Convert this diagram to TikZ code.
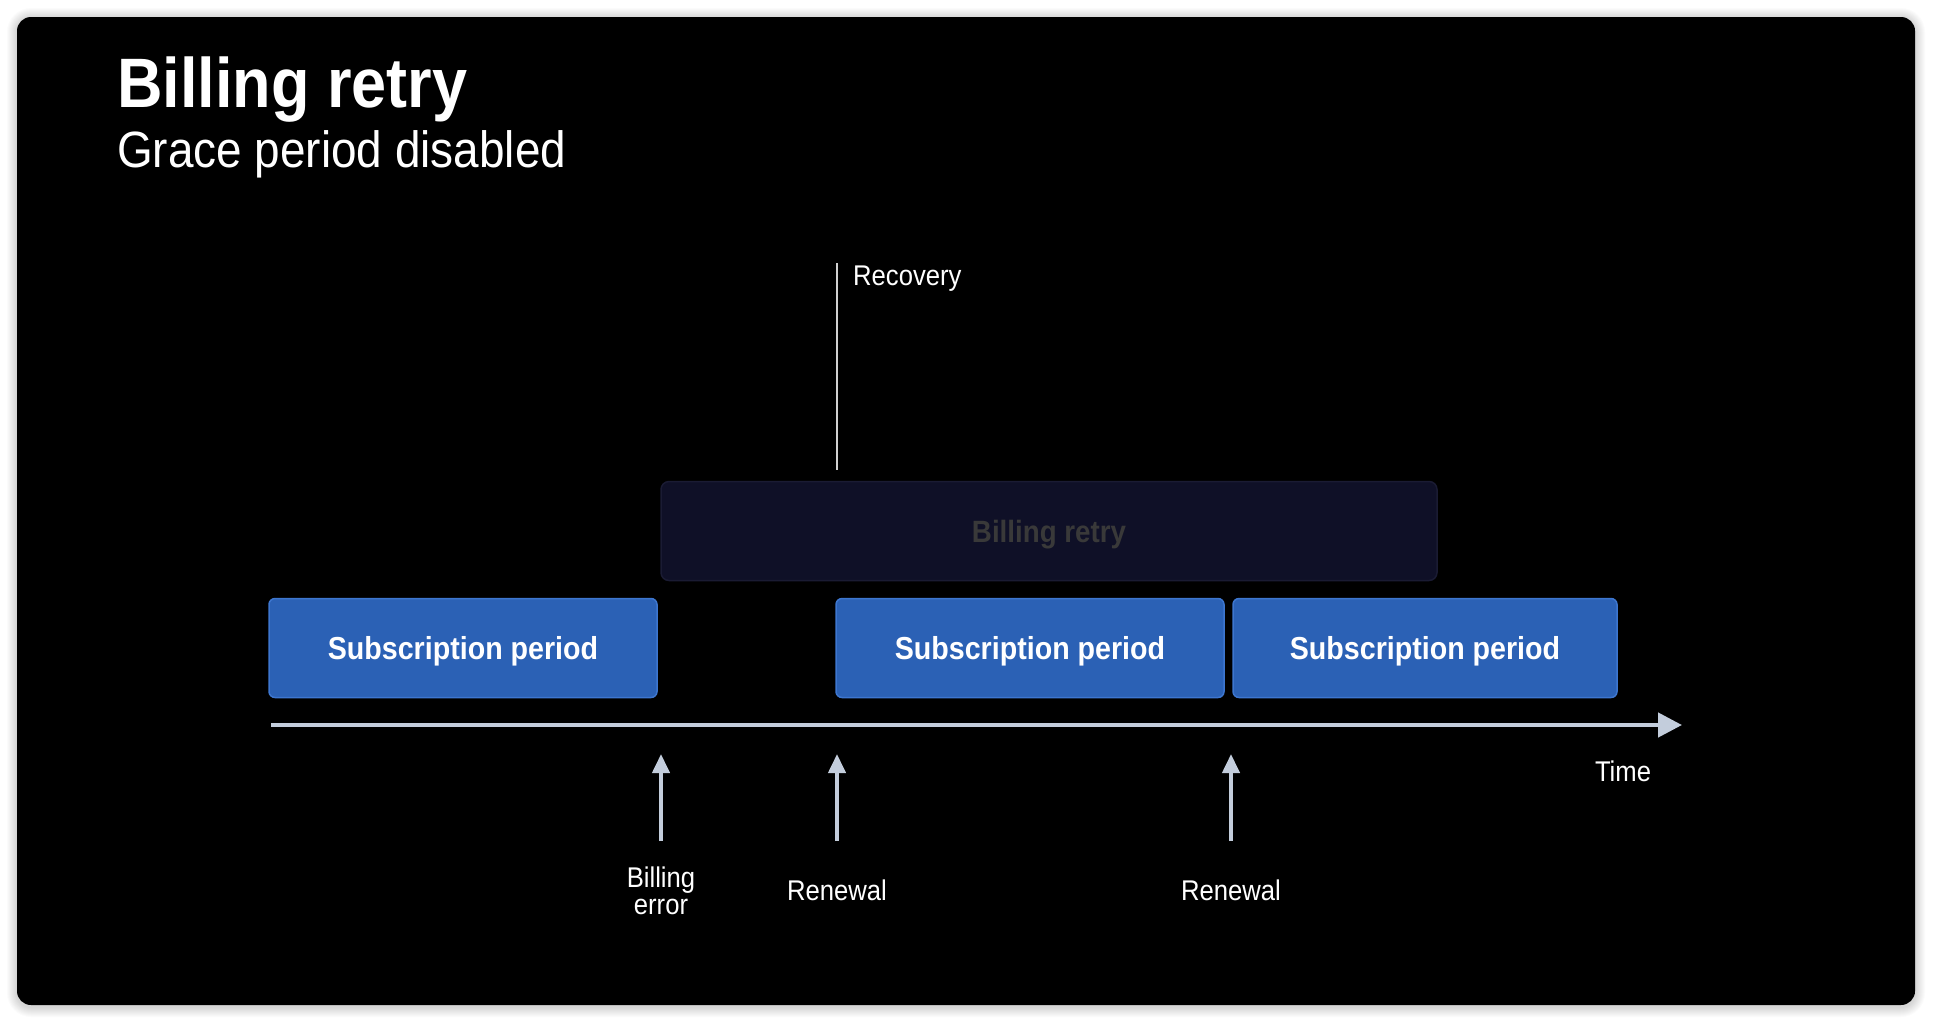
\documentclass[tikz,border=0pt]{standalone}
\usepackage{fontspec}
\setmainfont{Liberation Sans}[FakeStretch=0.9]
\usetikzlibrary{arrows.meta}
\definecolor{subfill}{HTML}{2B61B5}
\definecolor{subedge}{HTML}{3D76CF}
\definecolor{retryfill}{HTML}{0F1027}
\definecolor{retryedge}{HTML}{1A1B33}
\definecolor{retrytext}{HTML}{393939}
\definecolor{axis}{HTML}{C3CDDC}
\definecolor{recline}{HTML}{D0D0D0}
\newcommand\fsz[2]{\fontsize{#1pt}{#2pt}\selectfont}
\tikzset{
  subbox/.style={draw=subedge, line width=1.5pt, fill=subfill, rounded corners=6pt,
    minimum height=99pt, text=white, font=\fsz{31.8}{36}\bfseries, inner sep=0pt, text depth=0pt},
  retrybox/.style={draw=retryedge, line width=1.5pt, fill=retryfill, rounded corners=8pt,
    minimum width=776pt, minimum height=99pt, text=retrytext, font=\fsz{30.8}{36}\bfseries, inner sep=0pt, text depth=0pt},
  lbl/.style={text=white, font=\fsz{28.5}{27}, inner sep=0pt, align=center},
  timeaxis/.style={draw=axis, line width=4.5pt, -{Triangle[length=24pt,width=24pt]}},
  uparrow/.style={draw=axis, line width=4pt, -{Triangle[length=19pt,width=17pt]}},
  recstyle/.style={draw=recline, line width=2pt},
}
\begin{document}
\begin{tikzpicture}[x=1pt,y=-1pt]
\useasboundingbox (0,0) rectangle (1934,1023);
\fill[white] (0,0) rectangle (1934,1023);
% soft shadow
\foreach \i in {1,...,10}{
  \fill[black, opacity=0.015, rounded corners=14pt+\i pt] (17-\i,18-\i) rectangle (1915+\i,1007+\i);
}
\fill[black, rounded corners=14pt] (17,17) rectangle (1915,1005);

% title
\node[anchor=base west, text=white, font=\fsz{70}{80}\bfseries, inner sep=0pt] (title) at (117,107) {Billing retry};
\node[anchor=base west, text=white, font=\fsz{51}{60}, inner sep=0pt] (subtitle) at (117,167) {Grace period disabled};

% recovery marker
\coordinate (rectop) at (837,263);
\coordinate (recbot) at (837,470);
\draw[recstyle] (rectop) -- (recbot);
\node[lbl, anchor=base west] (recovery) at (853,285) {Recovery};

% billing retry box
\node[retrybox] (retry) at (1049,531) {Billing retry};

% subscription periods
\node[subbox, minimum width=388pt] (sub1) at (463,648) {Subscription period};
\node[subbox, minimum width=388pt] (sub2) at (1030,648) {Subscription period};
\node[subbox, minimum width=384pt] (sub3) at (1425,648) {Subscription period};

% time axis
\coordinate (tlstart) at (271,725);
\coordinate (tlend) at (1682,725);
\draw[timeaxis] (tlstart) -- (tlend);
\node[lbl] (time) at (1623,771) {Time};

% event arrows
\coordinate (beb) at (661,841);
\coordinate (bet) at (661,754);
\coordinate (r1b) at (837,841);
\coordinate (r1t) at (837,754);
\coordinate (r2b) at (1231,841);
\coordinate (r2t) at (1231,754);
\draw[uparrow] (beb) -- (bet);
\draw[uparrow] (r1b) -- (r1t);
\draw[uparrow] (r2b) -- (r2t);
\node[lbl] (berr) at (661,891) {Billing\\error};
\node[lbl] (ren1) at (837,890) {Renewal};
\node[lbl] (ren2) at (1231,890) {Renewal};
\end{tikzpicture}
\end{document}
